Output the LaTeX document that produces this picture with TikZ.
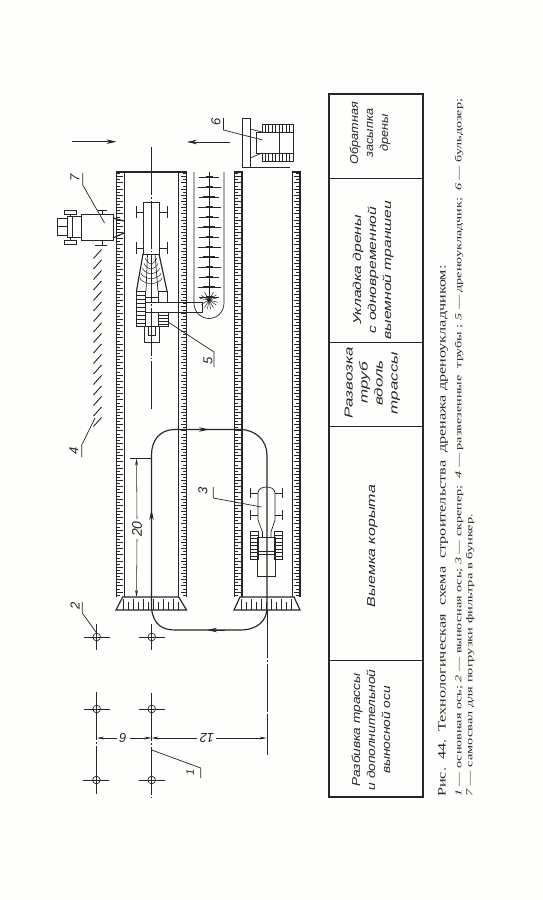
\documentclass[tikz,border=0pt]{standalone}
\usepackage{fontspec}
\setmainfont{Liberation Serif}
\setsansfont{Liberation Sans}
\usetikzlibrary{arrows.meta}
\definecolor{ink}{HTML}{262626}
\definecolor{paper}{HTML}{FEFEFC}
\tikzset{
  ln/.style={draw=ink,line width=.7pt},
  thk/.style={draw=ink,line width=1.15pt},
  thn/.style={draw=ink,line width=.5pt},
  axisline/.style={draw=ink,line width=.6pt,dash pattern=on 48pt off 2pt on 1.5pt off 2pt},
  arr/.style={draw=ink,line width=.7pt,-{Stealth[length=10pt,width=4.5pt]}},
  dimarr/.style={draw=ink,line width=.55pt,-{Stealth[length=7pt,width=2.8pt]}},
  num/.style={font=\sffamily\itshape\fontsize{13}{13}\selectfont,text=ink,inner sep=0pt,rotate=90},
  cell/.style={font=\sffamily\itshape\fontsize{11.5}{15}\selectfont,text=ink,inner sep=0pt,rotate=90},
  capt/.style={text=ink,inner sep=0pt,rotate=90,anchor=west},
}
\newcommand{\celltext}[2]{\scalebox{#1}[1]{\begin{tabular}{@{}c@{}}#2\end{tabular}}}
\newcommand{\combband}[6]{% x1 x2 y1 y2 ticks-from length
  \draw[thk] (#1,#3) -- (#1,#4);
  \draw[thk] (#2,#3) -- (#2,#4);
  \pgfmathsetmacro{\ystart}{#3+1.5}
  \pgfmathsetmacro{\ynext}{#3+4.6}
  \foreach \yy [count=\ii] in {\ystart,\ynext,...,#4}{
    \pgfmathsetmacro{\lenn}{mod(\ii,2)==0 ? #6 : #6*0.62}
    \draw[draw=ink,line width=.8pt] (#5,\yy) -- ++(\lenn,0);
  }
}
\newcommand{\wedgeend}[4]{% outer x1 outer x2 inner x1 inner x2
  \draw[thk] (#1,610) -- (#2,610) -- (#4,597) -- (#3,597) -- cycle;
  \pgfmathsetmacro{\xa}{#1+7}
  \pgfmathsetmacro{\xb}{#1+12}
  \pgfmathsetmacro{\xc}{#2-5}
  \foreach \xx [count=\ii] in {\xa,\xb,...,\xc}{
    \pgfmathsetmacro{\ytop}{mod(\ii,2)==0 ? 602 : 599}
    \draw[thn] (\xx,610) -- (\xx,\ytop);
  }
}
\newcommand{\stake}[2]{%
  \draw[ln] (#1,#2) circle (3.8pt);
  \draw[thn] (#1-13,#2) -- (#1+13,#2);
  \draw[thn] (#1,#2-13) -- (#1,#2+13);
}
\begin{document}
\begin{tikzpicture}[x=1pt,y=-1pt]
\fill[paper] (0,0) rectangle (543,900);
\useasboundingbox (0,0) rectangle (543,900);

% --- named reference points
\coordinate (ax1top) at (151.5,147);
\coordinate (ax1end) at (151.5,410);
\coordinate (ax2start) at (267,610);
\coordinate (ax2end) at (267,755);

% --- centre lines
\draw[axisline] (ax1top) -- (ax1end);
\draw[axisline] (ax2start) -- (ax2end);
\draw[axisline] (151.5,693) -- (151.5,797);
\draw[axisline] (96.5,692) -- (96.5,794);

% --- direction arrows at the top
\coordinate (a1s) at (71.5,141.7); \coordinate (a1e) at (116.5,141.7);
\coordinate (a2s) at (230,142);    \coordinate (a2e) at (187,142);
\draw[arr] (a1s) -- (a1e);
\draw[arr] (a2s) -- (a2e);

% --- trenches
\combband{116.5}{124.5}{172}{597}{116.5}{6}
\combband{186.5}{178.5}{172}{597}{186.5}{-6}
\combband{234.5}{242}{172}{597}{234.5}{6}
\combband{300}{292.5}{172}{597}{300}{-6}
\draw[thk] (116,172) -- (187,172);
\draw[thk] (234,172) -- (242.5,172);
\draw[thk] (292,172) -- (300.5,172);
\wedgeend{116}{186.5}{122.7}{178.7}
\wedgeend{234}{300}{240}{294}

% --- scraper route
\draw[thk] (151.5,608)
  .. controls (153,625) and (163,630) .. (175,630)
  -- (240,630)
  .. controls (258,630) and (267,620) .. (267,608)
  -- (267,455)
  .. controls (267,440) and (255,429.5) .. (240,429.5)
  -- (175,429.5)
  .. controls (160,429.5) and (151.5,440) .. (151.5,455)
  -- cycle;
\coordinate (r1) at (151.5,530); \coordinate (r1e) at (151.5,510);
\coordinate (r2) at (195,429.5); \coordinate (r2e) at (209,429.5);
\coordinate (r3) at (225,630);   \coordinate (r3e) at (207,630);
\draw[arr] (r1) -- (r1e);
\draw[arr] (r2) -- (r2e);
\draw[arr] (r3) -- (r3e);

% --- dimension 20
\draw[ln] (130,458) -- (151.5,458);
\node[num,font=\sffamily\itshape\fontsize{14}{14}\selectfont] (d20) at (137,529) {20};
\draw[dimarr] (d20.east) ++(0,-2) -- (136.5,458.5);
\draw[dimarr] (d20.west) ++(0,2) -- (136.5,597);

% --- stakes
\stake{96.7}{637}\stake{151.7}{637}
\stake{96.7}{709}\stake{151.7}{709}
\stake{96.4}{780}\stake{151.7}{780}

% --- dimensions 6 and 12
\draw[ln] (267,715) -- (267,755);
\node[num,rotate=90] (d6) at (123,738) {6};
\node[num,rotate=90] (d12) at (207,738) {12};
\coordinate (dl) at (97,738); \coordinate (dm) at (151.5,738); \coordinate (dr) at (266.5,738);
\draw[dimarr] (117,738) -- (dl);
\draw[dimarr] (130,738) -- (dm);
\draw[dimarr] (197,738) -- (dm);
\draw[dimarr] (216,738) -- (dr);

% --- pipes line 4
\foreach \yy in {254,264.5,...,422}{
  \draw[draw=ink,line width=.9pt] (93.5,\yy+4.5) -- (101.5,\yy-4.5);
}

% --- dump truck 7
\draw[ln] (57,218) rectangle (67,235);
\draw[ln] (57,226) -- (67,226);
\draw[ln] (67,216) rectangle (81,237);
\draw[ln] (72,216) -- (72,237);
\draw[ln] (64,210) rectangle (76,214);
\draw[ln] (64,240) rectangle (76,244);
\draw[ln] (70,214) -- (70,216);
\draw[ln] (70,237) -- (70,240);
\draw[ln] (81,214) rectangle (113,240);
\draw[ln] (97,210) -- (107,210);
\draw[ln] (102,210) -- (102,214);
\draw[ln] (95,245) -- (107,245);
\draw[ln] (102,240) -- (102,245);
\draw[thk] (113,218) -- (124,221) (113,238) -- (124,233);

% --- hopper of drain layer
\draw[ln] (143,202) rectangle (159,254);
\draw[ln] (136,212) -- (143,212) (159,212) -- (167,212);
\draw[ln] (136,248) -- (143,248) (159,248) -- (167,248);
\draw[ln] (136,206) -- (136,218) (167,206) -- (167,218);
\draw[ln] (136,242) -- (136,254) (167,242) -- (167,254);
% conveyor
\draw[thk] (143,254) -- (136.5,291);
\draw[thk] (159,254) -- (167,291);
\draw[ln] (147.5,254) -- (146,291);
\draw[ln] (155,254) -- (158,291);
\foreach \yy/\dx in {258/5.5,263/7,268/8.5,273/10,278/11}{
  \draw[thn] (151,\yy+6) .. controls (151-\dx*.6,\yy+5) and (151-\dx,\yy+2) .. (151-\dx,\yy);
  \draw[thn] (151,\yy+6) .. controls (151+\dx*.6,\yy+5) and (151+\dx,\yy+2) .. (151+\dx,\yy);
}
% tracks
\draw[ln] (136.5,291) rectangle (145.5,326);
\foreach \yy in {295,299,...,323}{\draw[thn] (136.5,\yy) -- (145.5,\yy);}
\draw[ln] (158,291) rectangle (167,302);
\draw[ln] (158,312) rectangle (168,326);
\foreach \yy in {315,318,321,324}{\draw[thn] (158,\yy) -- (168,\yy);}
% body and boom
\draw[ln] (145.5,302) -- (202,302) -- (202,312) -- (145.5,312);
\draw[ln] (145.5,297) -- (158,297);
\draw[ln] (145.5,326) -- (158,326);
% rear
\draw[ln] (144,326) -- (144,342) -- (159,342) -- (159,326);
\draw[ln] (148,326) -- (148,335) -- (155,335) -- (155,326);

% --- narrow trench with pipes
\draw[ln] (194,172) -- (194,303) .. controls (194,312) and (201,318.5) .. (209,318.5)
  .. controls (217,318.5) and (224,312) .. (224,303) -- (224,172);
\draw[ln] (209,172) -- (209,300);
\foreach \yy [count=\ii] in {177,187,...,297}{
  \pgfmathsetmacro{\hl}{mod(\ii,2)==0 ? 11.5 : 10}
  \pgfmathsetmacro{\sl}{mod(\ii,3)==0 ? 6 : 3.5}
  \draw[ln] (209-\hl,\yy) -- (209+\hl,\yy);
  \draw[thk] (209-\sl,\yy) -- (209+\sl,\yy);
}
\foreach \ang in {-170,-150,-120,-90,-60,-35,-15,15,35,60,80,100,120,150}{
  \draw[thn] (209,300) -- ++(\ang:9);
}
\fill[ink] (209,300) circle (2pt);

% --- bulldozer 6
\draw[ln] (242.5,118) rectangle (250,167.5);
\draw[thk] (242.5,167.5) -- (290,167.5);
\draw[ln] (250,129) -- (262,132);
\draw[ln] (250,158) -- (262,153);
\draw[ln] (256,132) rectangle (293,153);
\draw[ln] (279,132) -- (279,153);
\draw[ln] (262,124) rectangle (293,132);
\draw[ln] (262,153) rectangle (293,161);
\foreach \xx in {265,268.5,...,292}{
  \draw[thn] (\xx,124) -- (\xx,132);
  \draw[thn] (\xx,153) -- (\xx,161);
}

% --- scraper 3
\draw[ln] (258,493) .. controls (258,489) and (262,487) .. (266.5,487) .. controls (271,487) and (275,489) .. (275,493);
\draw[ln] (258,493) -- (258,520) -- (262.5,532) -- (262.5,537);
\draw[ln] (275,493) -- (275,520) -- (271,532) -- (271,537);
\draw[ln] (250,493) -- (258,493) (275,493) -- (282,493);
\draw[ln] (250,515) -- (258,515) (275,515) -- (282,515);
\draw[ln] (250,488) -- (250,498) (282,488) -- (282,498);
\draw[ln] (250,510) -- (250,520) (282,510) -- (282,520);
\draw[ln] (257.5,537) rectangle (275.5,576);
\draw[ln] (257.5,551) -- (275.5,551) (257.5,554) -- (275.5,554);
\draw[ln] (250,531.5) rectangle (258,559.5);
\draw[ln] (274.5,531.5) rectangle (282,559.5);
\foreach \yy in {535,538.5,...,558}{
  \draw[thn] (250,\yy) -- (258,\yy);
  \draw[thn] (274.5,\yy) -- (282,\yy);
}

% --- item labels with leaders
\coordinate (t7) at (104.5,223);
\coordinate (t6) at (262.5,140);
\coordinate (t5) at (168,322);
\coordinate (t4) at (95,418);
\coordinate (t3) at (261.5,507);
\coordinate (t2) at (96.7,633);
\coordinate (t1) at (151.7,750);
\node[num] (n7) at (75,178) {7};
\node[num] (n6) at (216,122) {6};
\node[num] (n5) at (208,361) {5};
\node[num] (n4) at (74,451) {4};
\node[num] (n3) at (203,491) {3};
\node[num] (n2) at (75,606) {2};
\node[num,font=\sffamily\itshape\fontsize{11}{11}\selectfont] (n1) at (190,772) {1};
\draw[ln] (82.7,173) -- (82.7,185) -- (t7);
\draw[ln] (223.5,118) -- (223.5,130) -- (t6);
\draw[ln] (214,367) -- (214,352) -- (t5);
\draw[ln] (81.7,457) -- (81.7,445) -- (t4);
\draw[ln] (213.3,487) -- (213.3,498) -- (t3);
\draw[ln] (82.3,602) -- (82.3,613) -- (t2);
\draw[ln] (200.7,778) -- (200.7,768) -- (t1);

% --- table
\draw[thk] (329,94) rectangle (423,797);
\foreach \yy in {178,342,426,660}{\draw[ln] (329,\yy) -- (423,\yy);}
\node[cell] (c1) at (370,133) {\celltext{1.1}{Обратная\\засыпка\\дрены}};
\node[cell] (c2) at (373,270) {\celltext{1.36}{Укладка дрены\\с одновременной\\выемной траншеи}};
\node[cell] (c3) at (372,383) {\celltext{1.47}{Развозка\\труб\\вдоль\\трассы}};
\node[cell] (c4) at (372,546) {\celltext{1.39}{Выемка корыта}};
\node[cell] (c5) at (372,730) {\celltext{1.19}{Разбивка трассы\\и дополнительной\\выносной оси}};

% --- caption
\node[capt,font=\fontsize{11.4}{11.4}\selectfont] (cap1) at (443,797) {\scalebox{1.42}[1]{Рис.~~44.~~Технологическая~~схема~~строительства~~дренажа~дреноукладчиком:}};
\node[capt,font=\fontsize{9}{9}\selectfont] (cap2) at (459,797) {\scalebox{1.57}[1]{\textit{1} — основная ось; \textit{2} — выносная ось; \textit{3} — скрепер;~~\textit{4} — развезенные~~трубы ; \textit{5} — дреноукладчик;~~\textit{6} — бульдозер;}};
\node[capt,font=\fontsize{9}{9}\selectfont] (cap3) at (470,797) {\scalebox{1.6}[1]{\textit{7} — самосвал для погрузки фильтра в бункер.}};
\end{tikzpicture}
\end{document}
